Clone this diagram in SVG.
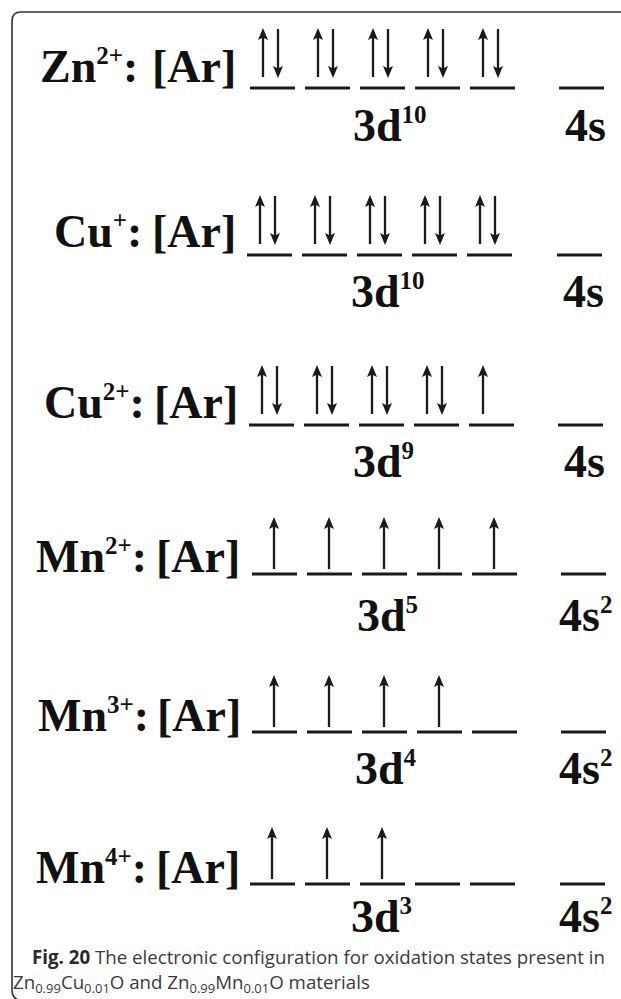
<svg xmlns="http://www.w3.org/2000/svg" xmlns:xlink="http://www.w3.org/1999/xlink" width="621" height="999" viewBox="0 0 621 999">
<style>
.lab{font-family:"Liberation Serif","Times New Roman",serif;font-weight:bold;font-size:46px;fill:#111}
.sup{font-size:25px}
.ln{stroke:#1a1a1a;stroke-width:2.8;fill:none}
.sh{stroke:#1a1a1a;stroke-width:2.3;fill:none}
.hd{fill:#1a1a1a;stroke:none}
.cap{font-family:"Open Sans","Noto Sans",sans-serif;font-size:18.7px;fill:#3a3a3a}
.capb{font-weight:bold;fill:#2a2a2a}
.csub{font-size:13px}
</style>
<defs>
<g id="pr">
<path class="sh" d="M13,-11 V-53 M28,-59 V-17"/>
<path class="hd" d="M13,-60 L8,-48 L13,-50.5 L18,-48 Z M28,-10 L23,-22 L28,-19.5 L33,-22 Z"/>
</g>
<g id="u1">
<path class="sh" d="M22,-5 V-50"/>
<path class="hd" d="M22,-57 L17,-45 L22,-47.5 L27,-45 Z"/>
</g>
<g id="uc">
<path class="sh" d="M14,-11 V-53"/>
<path class="hd" d="M14,-60 L9,-48 L14,-50.5 L19,-48 Z"/>
</g>
</defs>
<g id="frame">
<path d="M621,12 H21 Q12,12 12,21 V990 Q12,999 21,1001" fill="none" stroke="#333" stroke-width="1.6"/>
</g>
<g id="zn2">
<text class="lab" y="82"><tspan x="40">Zn</tspan><tspan class="sup" dy="-18">2+</tspan><tspan dy="18">:</tspan><tspan x="152">[Ar]</tspan></text>
<path class="ln" d="M250,88 h45 M305,88 h45 M360,88 h45 M415,88 h45 M470,88 h45 M559,88 h45"/>
<use xlink:href="#pr" x="250" y="88"/><use xlink:href="#pr" x="305" y="88"/><use xlink:href="#pr" x="360" y="88"/><use xlink:href="#pr" x="415" y="88"/><use xlink:href="#pr" x="470" y="88"/>
<text class="lab" x="353" y="141">3d<tspan class="sup" dy="-18">10</tspan></text>
<text class="lab" x="565" y="141">4s</text>
</g>
<g id="cu1">
<text class="lab" y="247"><tspan x="54">Cu</tspan><tspan class="sup" dy="-18">+</tspan><tspan dy="18">:</tspan><tspan x="152">[Ar]</tspan></text>
<path class="ln" d="M247,255 h45 M302,255 h45 M357,255 h45 M412,255 h45 M467,255 h45 M557,255 h45"/>
<use xlink:href="#pr" x="247" y="255"/><use xlink:href="#pr" x="302" y="255"/><use xlink:href="#pr" x="357" y="255"/><use xlink:href="#pr" x="412" y="255"/><use xlink:href="#pr" x="467" y="255"/>
<text class="lab" x="351" y="307">3d<tspan class="sup" dy="-18">10</tspan></text>
<text class="lab" x="563" y="307">4s</text>
</g>
<g id="cu2">
<text class="lab" y="418"><tspan x="44">Cu</tspan><tspan class="sup" dy="-18">2+</tspan><tspan dy="18">:</tspan><tspan x="154">[Ar]</tspan></text>
<path class="ln" d="M249,425 h45 M304,425 h45 M359,425 h45 M414,425 h45 M469,425 h45 M558,425 h45"/>
<use xlink:href="#pr" x="249" y="425"/><use xlink:href="#pr" x="304" y="425"/><use xlink:href="#pr" x="359" y="425"/><use xlink:href="#pr" x="414" y="425"/><use xlink:href="#uc" x="469" y="425"/>
<text class="lab" x="353" y="477">3d<tspan class="sup" dy="-18">9</tspan></text>
<text class="lab" x="564" y="477">4s</text>
</g>
<g id="mn2">
<text class="lab" y="572"><tspan x="36">Mn</tspan><tspan class="sup" dy="-18">2+</tspan><tspan dy="18">:</tspan><tspan x="156">[Ar]</tspan></text>
<path class="ln" d="M252,574 h45 M307,574 h45 M362,574 h45 M417,574 h45 M472,574 h45 M561,574 h45"/>
<use xlink:href="#u1" x="252" y="574"/><use xlink:href="#u1" x="307" y="574"/><use xlink:href="#u1" x="362" y="574"/><use xlink:href="#u1" x="417" y="574"/><use xlink:href="#u1" x="472" y="574"/>
<text class="lab" x="357" y="631">3d<tspan class="sup" dy="-18">5</tspan></text>
<text class="lab" x="559" y="631">4s<tspan class="sup" dy="-18">2</tspan></text>
</g>
<g id="mn3">
<text class="lab" y="731"><tspan x="38">Mn</tspan><tspan class="sup" dy="-18">3+</tspan><tspan dy="18">:</tspan><tspan x="157">[Ar]</tspan></text>
<path class="ln" d="M252,732 h45 M307,732 h45 M362,732 h45 M417,732 h45 M472,732 h45 M561,732 h45"/>
<use xlink:href="#u1" x="252" y="732"/><use xlink:href="#u1" x="307" y="732"/><use xlink:href="#u1" x="362" y="732"/><use xlink:href="#u1" x="417" y="732"/>
<text class="lab" x="355" y="784">3d<tspan class="sup" dy="-18">4</tspan></text>
<text class="lab" x="559" y="784">4s<tspan class="sup" dy="-18">2</tspan></text>
</g>
<g id="mn4">
<text class="lab" y="883"><tspan x="36">Mn</tspan><tspan class="sup" dy="-18">4+</tspan><tspan dy="18">:</tspan><tspan x="156">[Ar]</tspan></text>
<path class="ln" d="M250,884 h45 M305,884 h45 M360,884 h45 M415,884 h45 M470,884 h45 M560,884 h45"/>
<use xlink:href="#u1" x="250" y="884"/><use xlink:href="#u1" x="305" y="884"/><use xlink:href="#u1" x="360" y="884"/>
<text class="lab" x="351" y="932">3d<tspan class="sup" dy="-18">3</tspan></text>
<text class="lab" x="559" y="932">4s<tspan class="sup" dy="-18">2</tspan></text>
</g>
<g id="caption">
<text class="cap" x="32" y="964"><tspan class="capb">Fig. 20</tspan> The electronic configuration for oxidation states present in</text>
<text class="cap" x="13" y="989">Zn<tspan class="csub" dy="4">0.99</tspan><tspan dy="-4">Cu</tspan><tspan class="csub" dy="4">0.01</tspan><tspan dy="-4">O and Zn</tspan><tspan class="csub" dy="4">0.99</tspan><tspan dy="-4">Mn</tspan><tspan class="csub" dy="4">0.01</tspan><tspan dy="-4">O materials</tspan></text>
</g>
</svg>
